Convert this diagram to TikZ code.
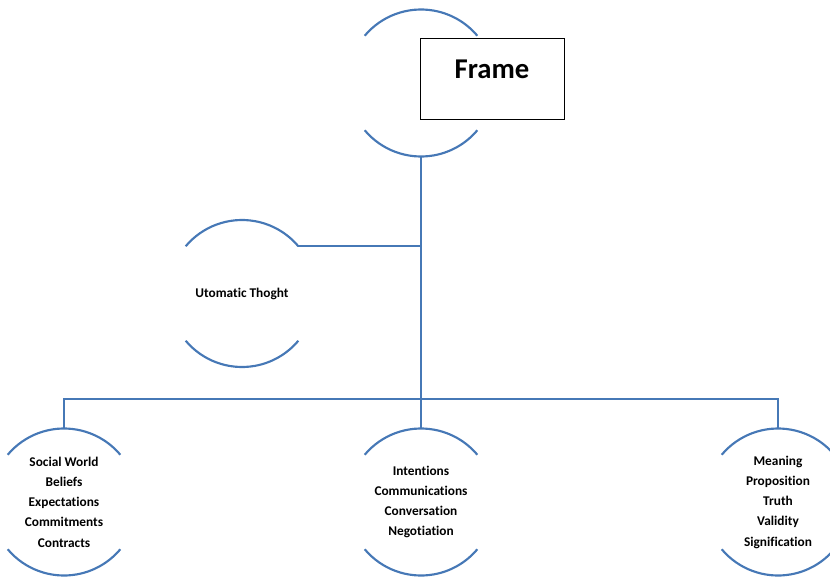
\documentclass[tikz,border=0pt]{standalone}
\usepackage{fontspec}
\setmainfont{Carlito}[Ligatures=NoCommon]
\definecolor{linkblue}{RGB}{70,120,182}

\begin{document}
\begin{tikzpicture}[x=0.75pt,y=0.75pt,
	ring/.style={circle,minimum size=110.25pt,inner sep=0pt,outer sep=0pt,align=center,font=\fontsize{10}{15.2}\selectfont\bfseries},
	link/.style={draw=linkblue,line width=1.6pt},
	framebox/.style={draw=black,fill=white,line width=0.75pt,minimum width=108pt,minimum height=60pt,inner sep=0pt,outer sep=0pt},
	framelbl/.style={font=\fontsize{21.5}{26}\selectfont\bfseries,inner sep=0pt}]
	\useasboundingbox (0,0) rectangle (830,576);

	%CIRCLES
	\node[ring] (topc) at (421,493) {};							%behind the frame box
	\node[ring] (autoc) at (242,282.5) {Utomatic Thoght};
	\node[ring] (leftc) at (64,74) {Social World\\Beliefs\\Expectations\\Commitments\\Contracts};
	\node[ring] (midc) at (421,74) {Intentions\\Communications\\Conversation\\Negotiation};
	\node[ring] (rightc) at (778,74) {Meaning\\Proposition\\Truth\\Validity\\Signification};

	%ARCS (top and bottom only)
	\foreach \c in {topc,autoc,leftc,midc,rightc}{
		\draw[link] (\c.140) arc (140:40:73.5);
		\draw[link] (\c.220) arc (220:320:73.5);
	}

	%CONNECTORS
	\coordinate (bus) at (421,177);
	\draw[link] (topc.south) -- (bus);
	\draw[link] (autoc.40) -- (autoc.40 -| topc.south);
	\draw[link] (leftc.north) |- (bus) -| (rightc.north);
	\draw[link] (bus) -- (midc.north);

	%FRAME BOX
	\node[framebox] (frm) at (492,497) {};
	\node[framelbl] (frmlbl) at (492,507) {Frame};
\end{tikzpicture}
\end{document}
